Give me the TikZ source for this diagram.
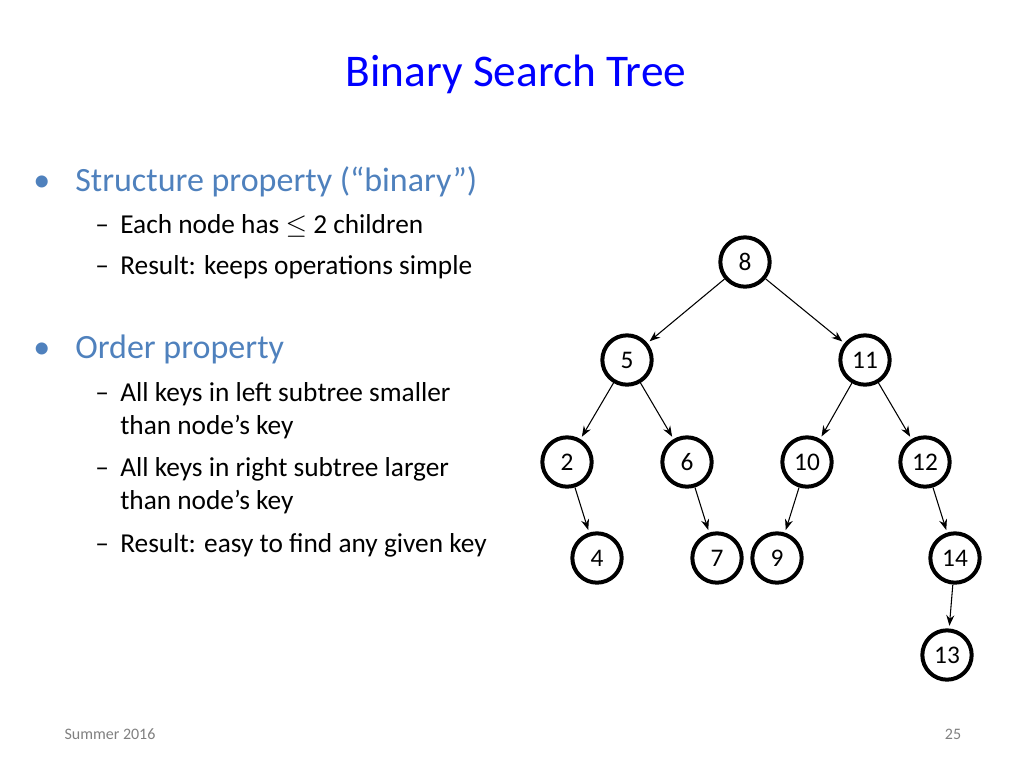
\documentclass[tikz,border=0pt]{standalone}
\usepackage{fontspec}
\setmainfont{Carlito}
\usetikzlibrary{arrows.meta}
\definecolor{titleblue}{RGB}{0,0,255}
\definecolor{bulletblue}{RGB}{79,129,189}
\begin{document}
\begin{tikzpicture}[x=0.75pt,y=-0.75pt,
  key/.style={circle,draw=black,line width=3pt,minimum size=37pt,inner sep=0pt,font=\fontsize{19}{19}\selectfont,fill=white},
  edge/.style={-{Stealth[length=8pt,width=6pt]},line width=0.8pt,shorten >=2pt},
  lone/.style={anchor=base west,inner sep=0pt,font=\fontsize{25.5}{25.5}\selectfont,text=bulletblue},
  ltwo/.style={anchor=base west,inner sep=0pt,font=\fontsize{20.5}{20.5}\selectfont,text=black}]
\useasboundingbox (0,0) rectangle (1024,768);
\node[font=\fontsize{34}{34}\selectfont,text=titleblue] (title) at (516,74) {Binary Search Tree};
\node[lone] (b1m) at (33,191) {•};
\node[lone] (b1) at (75,191) {Structure property (“binary”)};
\node[ltwo] (d1) at (95,233) {–};
\node[ltwo] (s1) at (120,233) {Each node has $\leq$ 2 children};
\node[ltwo] (d2) at (95,274) {–};
\node[ltwo] (s2) at (120,274) {Result: keeps operations simple};
\node[lone] (b2m) at (33,358) {•};
\node[lone] (b2) at (75,358) {Order property};
\node[ltwo] (d3) at (95,401) {–};
\node[ltwo] (s3) at (120,401) {All keys in left subtree smaller};
\node[ltwo] (s3b) at (120,434) {than node’s key};
\node[ltwo] (d4) at (95,476) {–};
\node[ltwo] (s4) at (120,476) {All keys in right subtree larger};
\node[ltwo] (s4b) at (120,509) {than node’s key};
\node[ltwo] (d5) at (95,552) {–};
\node[ltwo] (s5) at (120,552) {Result: easy to find any given key};
\node[key] (n8) at (745,262) {8};
\node[key] (n5) at (627,360) {5};
\node[key] (n11) at (865,360) {11};
\node[key] (n2) at (567,462) {2};
\node[key] (n6) at (687,462) {6};
\node[key] (n10) at (807,462) {10};
\node[key] (n12) at (925,462) {12};
\node[key] (n4) at (597,558) {4};
\node[key] (n7) at (717,558) {7};
\node[key] (n9) at (777,558) {9};
\node[key] (n14) at (955,558) {14};
\node[key] (n13) at (947,655) {13};
\foreach \a/\b in {n8/n5,n8/n11,n5/n2,n5/n6,n11/n10,n11/n12,n2/n4,n6/n7,n10/n9,n12/n14,n14/n13}
  \draw[edge] (\a) -- (\b);
\node[font=\fontsize{12}{12}\selectfont,text=gray] (foot) at (110,734) {Summer 2016};
\node[font=\fontsize{12}{12}\selectfont,text=gray] (page) at (953,734) {25};
\end{tikzpicture}
\end{document}
